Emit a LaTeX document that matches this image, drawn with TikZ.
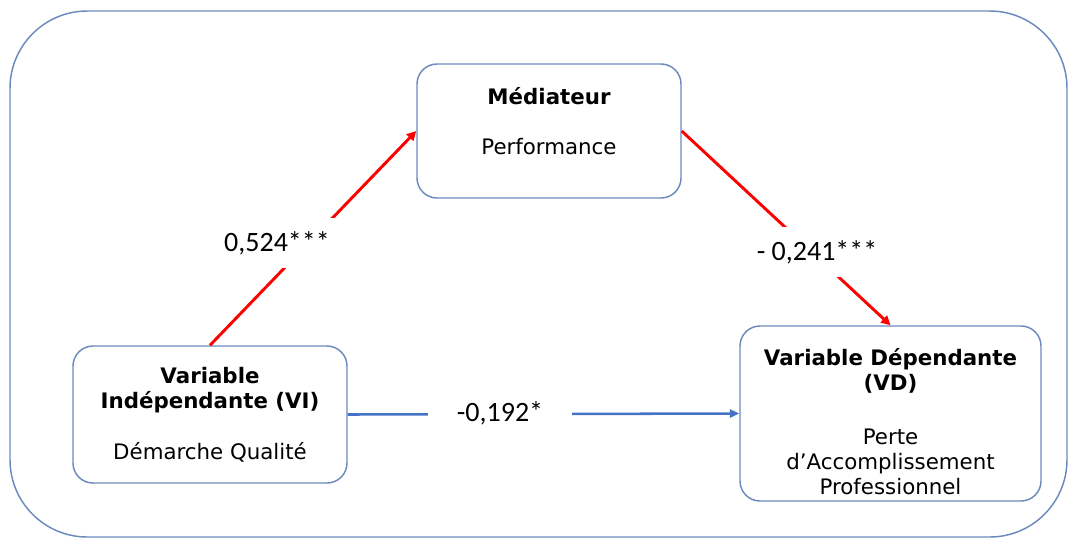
\documentclass[tikz,border=0pt]{standalone}
\usepackage{fontspec}
\setmainfont{DejaVu Sans}
\newfontfamily\numfont{Carlito}
\usetikzlibrary{arrows.meta}
\definecolor{frameblue}{RGB}{108,138,190}
\definecolor{linkblue}{RGB}{68,114,196}
\begin{document}
\begin{tikzpicture}[x=0.75pt, y=-0.75pt,
  every node/.style={font=\fontsize{16}{19}\selectfont},
  box/.style={draw=frameblue, line width=1.1pt, rounded corners=15pt, align=center, fill=white},
  lbl/.style={fill=white, font=\numfont\fontsize{21}{24}\selectfont, inner xsep=10pt, inner ysep=10pt},
  redarrow/.style={-{Triangle[length=7pt, width=7pt]}, red, line width=2.2pt},
  bluearrow/.style={-{Triangle[length=7pt, width=6pt]}, linkblue, line width=1.9pt}]
\useasboundingbox (0,0) rectangle (1070,537);
\clip (0,0) rectangle (1070,537);
\draw[frameblue, line width=1.1pt, rounded corners=58pt] (10,11) rectangle (1067,537);
\node[box, minimum width=198pt, minimum height=100.5pt, text depth=15pt] (med) at (549,131) {\textbf{Médiateur}\\[19pt]Performance};
\node[box, minimum width=205.5pt, minimum height=102.75pt] (vi) at (210,414.5) {\textbf{Variable}\\\textbf{Indépendante (VI)}\\[19pt]Démarche Qualité};
\node[box, minimum width=225.75pt, minimum height=131.25pt, text height=122pt] (vd) at (890.5,413.5) {\textbf{Variable Dépendante}\\\textbf{(VD)}\\[21pt]Perte\\d’Accomplissement\\Professionnel};
\draw[redarrow] (vi.north) -- (med.west);
\draw[redarrow] (med.east) -- (vd.north);
\draw[bluearrow] (vi.east) -- (vd.west);
\node[lbl] (ab) at (277,243) {0,524***};
\node[lbl] (bc) at (817,252) {- 0,241***};
\node[lbl, inner xsep=22pt] (ac) at (500,413) {-0,192*};
\end{tikzpicture}
\end{document}
